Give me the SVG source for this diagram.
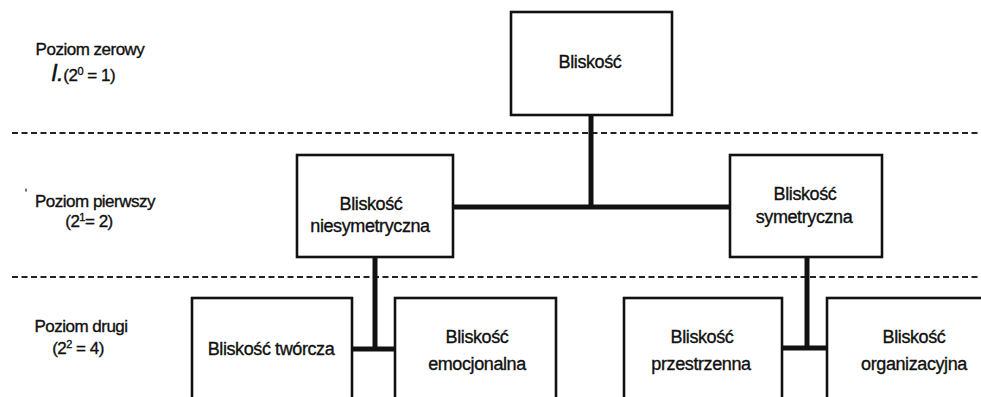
<svg xmlns="http://www.w3.org/2000/svg" width="981" height="397" viewBox="0 0 981 397">
<style>
text{font-family:"Liberation Sans",Arial,sans-serif;fill:#111;stroke:#111;stroke-width:0.35;}
.n{font-size:18px;letter-spacing:-0.4px;text-anchor:middle;}
.l{font-size:17px;letter-spacing:-0.5px;text-anchor:middle;}
.sup{font-size:11px;}
.box{fill:#fff;stroke:#111;stroke-width:2.6;}
.dash{stroke:#222;stroke-width:1.8;stroke-dasharray:6 3.5;fill:none;}
.conn{stroke:#111;stroke-width:5;fill:none;}
</style>
<rect width="981" height="397" fill="#fff"/>
<g id="levels">
<line class="dash" x1="12" y1="133" x2="981" y2="133"/>
<line class="dash" x1="12" y1="277" x2="981" y2="277"/>
<text class="l" x="90" y="55">Poziom zerowy</text>
<text class="l" x="83" y="81"><tspan font-style="italic" font-size="24">I.</tspan>(2<tspan class="sup" dy="-6">0</tspan><tspan dy="6"> = 1)</tspan></text>
<text x="25" y="197" font-size="10">'</text>
<text class="l" x="95" y="207">Poziom pierwszy</text>
<text class="l" x="89" y="227">(2<tspan class="sup" dy="-6">1</tspan><tspan dy="6">= 2)</tspan></text>
<text class="l" x="81" y="332">Poziom drugi</text>
<text class="l" x="78" y="354">(2<tspan class="sup" dy="-6">2</tspan><tspan dy="6"> = 4)</tspan></text>
</g>
<g id="connectors">
<line class="conn" x1="591" y1="115" x2="591" y2="207"/>
<line class="conn" x1="453" y1="207" x2="730" y2="207"/>
<line class="conn" x1="375" y1="257" x2="375" y2="349"/>
<line class="conn" x1="352" y1="349" x2="395" y2="349"/>
<line class="conn" x1="807" y1="257" x2="807" y2="348"/>
<line class="conn" x1="782" y1="348" x2="827" y2="348"/>
</g>
<g id="n0">
<rect class="box" x="511" y="12" width="161" height="103"/>
<text class="n" x="590" y="68">Bliskość</text>
</g>
<g id="n1">
<rect class="box" x="297" y="155" width="156" height="102"/>
<text class="n" x="371" y="210">Bliskość</text>
<text class="n" x="370" y="232">niesymetryczna</text>
</g>
<g id="n2">
<rect class="box" x="730" y="155" width="152" height="102"/>
<text class="n" x="805" y="200">Bliskość</text>
<text class="n" x="804" y="223">symetryczna</text>
</g>
<g id="n3">
<rect class="box" x="192" y="298" width="160" height="130"/>
<text class="n" x="271" y="355">Bliskość twórcza</text>
</g>
<g id="n4">
<rect class="box" x="395" y="298" width="161" height="130"/>
<text class="n" x="477" y="343">Bliskość</text>
<text class="n" x="477" y="370">emocjonalna</text>
</g>
<g id="n5">
<rect class="box" x="624" y="298" width="158" height="130"/>
<text class="n" x="702" y="343">Bliskość</text>
<text class="n" x="701" y="370">przestrzenna</text>
</g>
<g id="n6">
<rect class="box" x="827" y="298" width="180" height="130"/>
<text class="n" x="914" y="343">Bliskość</text>
<text class="n" x="914" y="370">organizacyjna</text>
</g>
</svg>
